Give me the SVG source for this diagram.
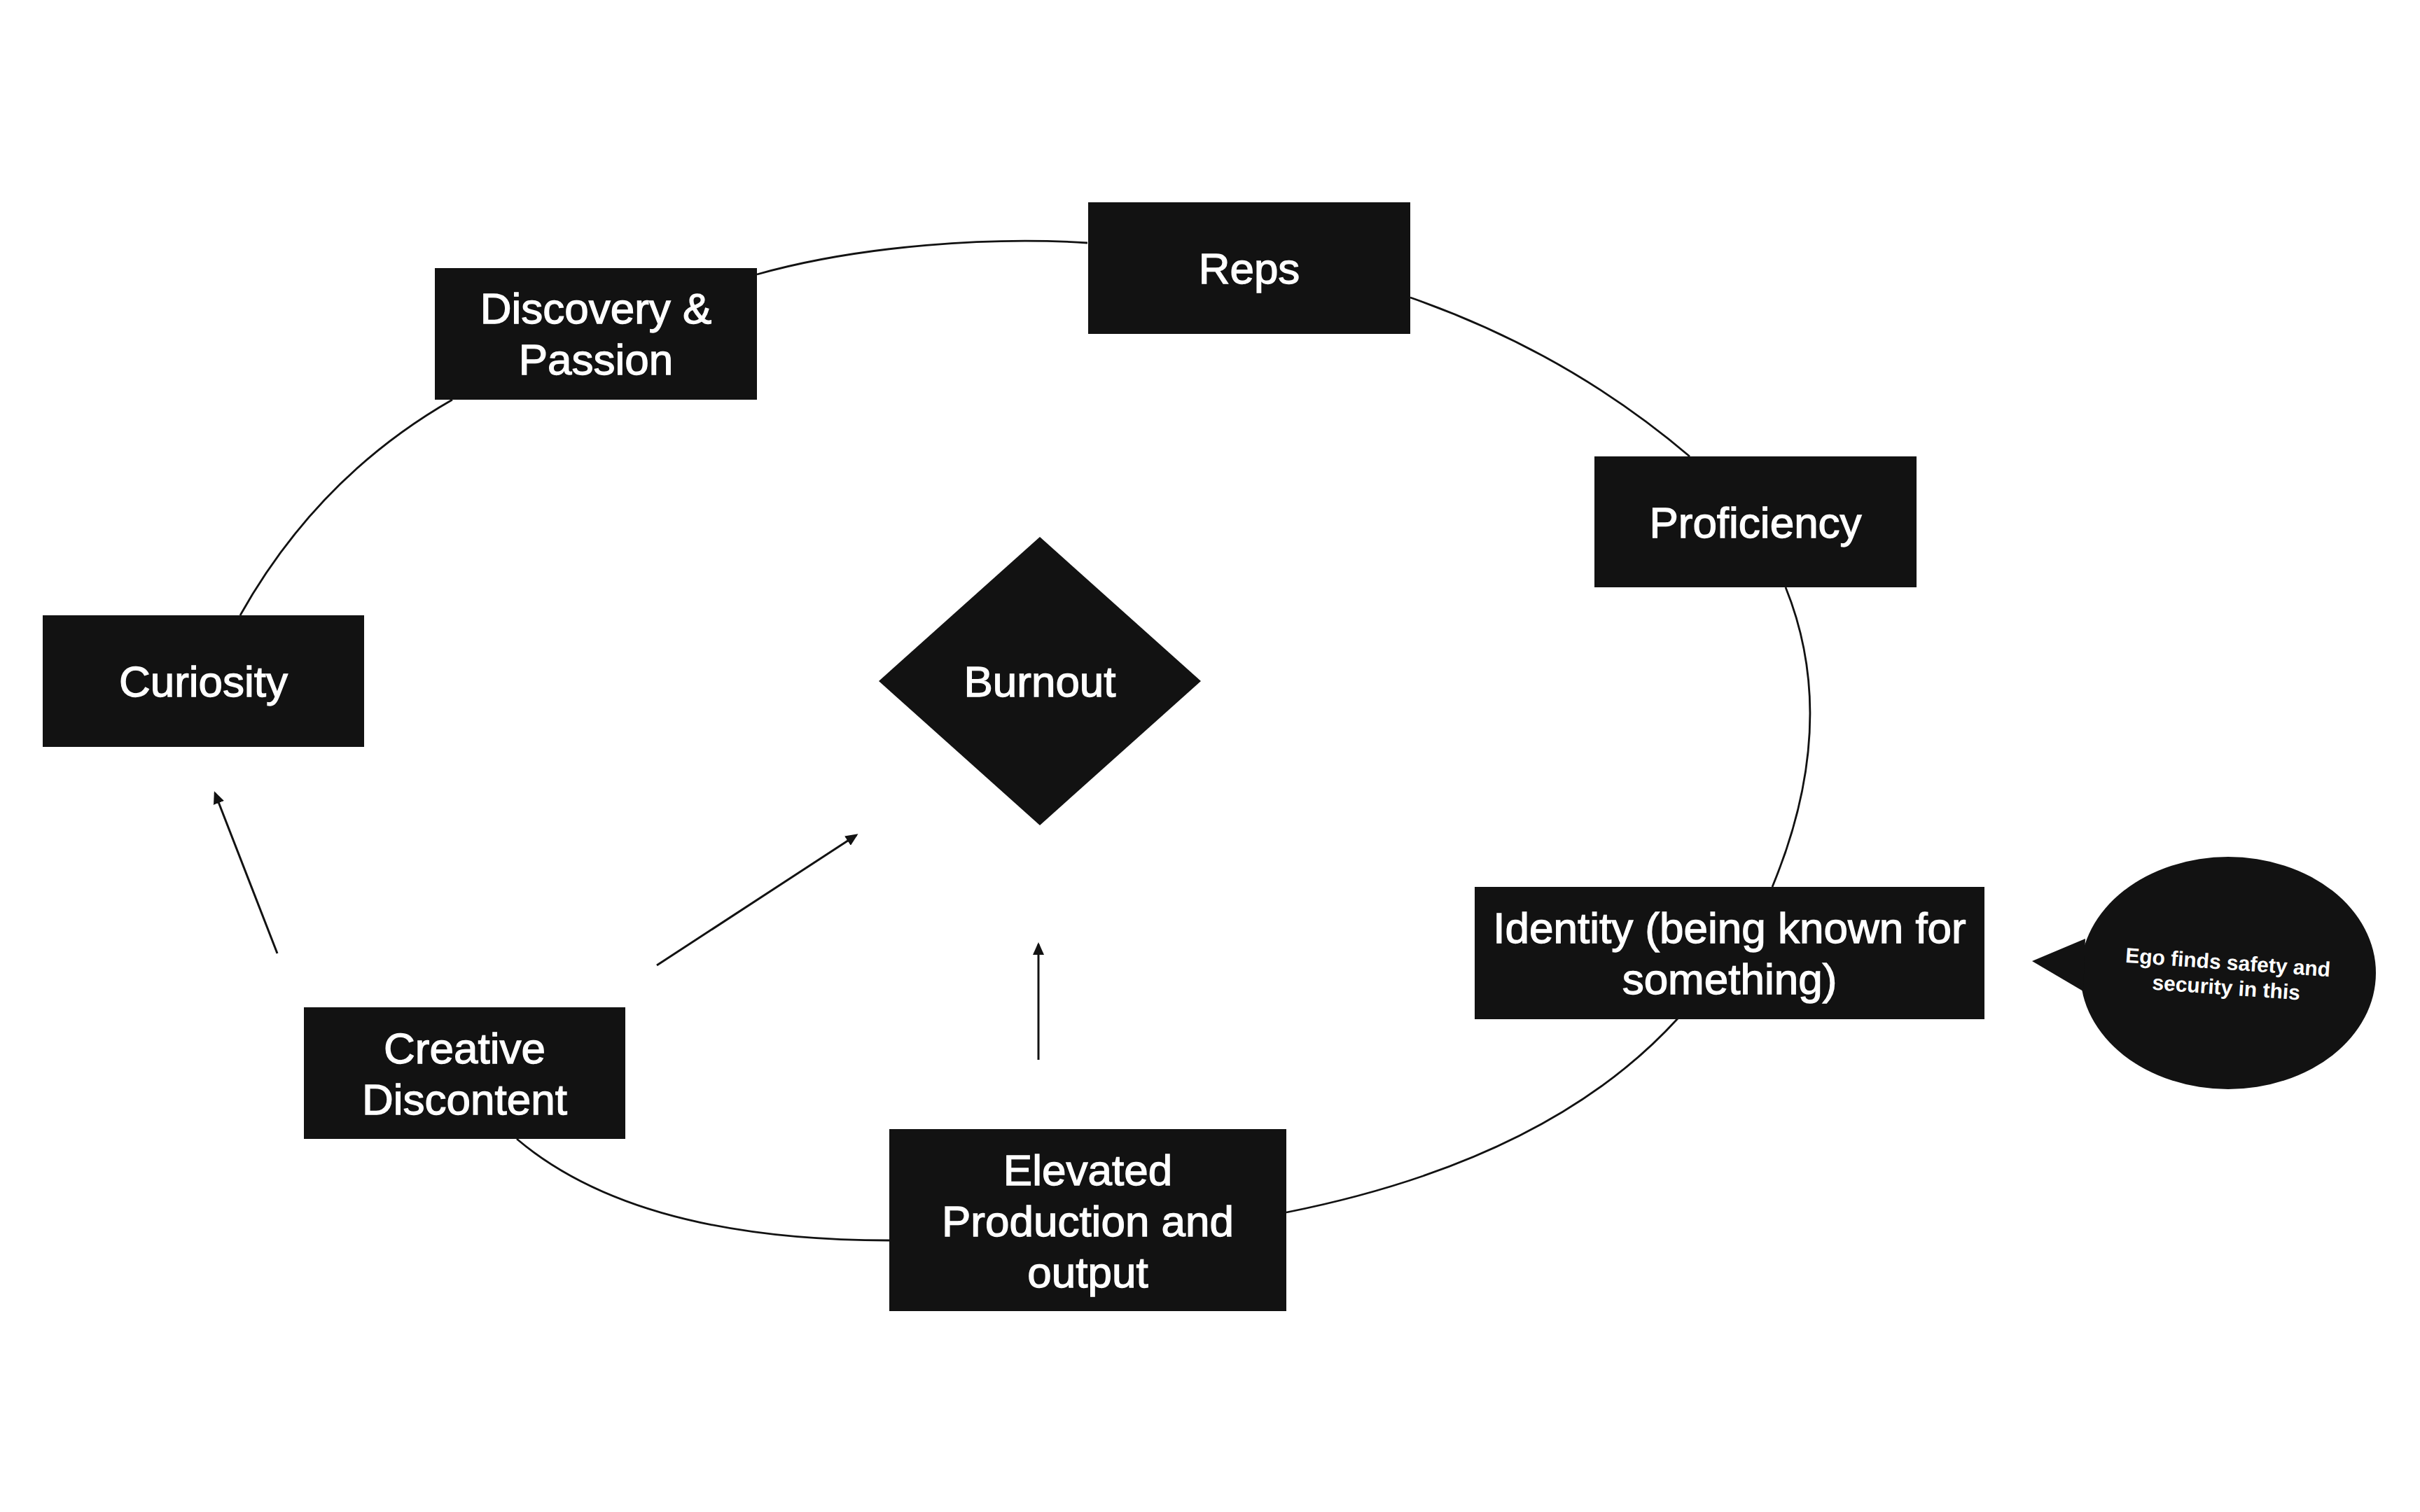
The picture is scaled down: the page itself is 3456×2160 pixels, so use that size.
<svg xmlns="http://www.w3.org/2000/svg" width="3456" height="2160" viewBox="0 0 3456 2160">
  <style>
    .box { fill: #121212; }
    .lbl { fill: #ffffff; stroke: #ffffff; stroke-width: 1.3; font-family: "Liberation Sans", Arial, Helvetica, sans-serif; font-size: 62px; text-anchor: middle; }
    .small { fill: #ffffff; font-family: "Liberation Sans", Arial, Helvetica, sans-serif; font-size: 30px; font-weight: bold; text-anchor: middle; }
    .curve { fill: none; stroke: #121212; stroke-width: 2.8; }
    .arrow { fill: none; stroke: #121212; stroke-width: 3; marker-end: url(#head); }
  </style>
  <defs>
    <marker id="head" viewBox="0 0 18 16" refX="15" refY="8" markerWidth="18" markerHeight="16" markerUnits="userSpaceOnUse" orient="auto">
      <path d="M0,0 L18,8 L0,16 Z" fill="#121212"/>
    </marker>
  </defs>
  <rect width="3456" height="2160" fill="#ffffff"/>

  <g id="connectors">
    <path class="curve" d="M343,879 Q454,681 646,571"/>
    <path class="curve" d="M1081,392 C1230,350 1420,338 1553,347"/>
    <path class="curve" d="M2014,425 Q2238,503 2413,652"/>
    <path class="curve" d="M2550,839 C2605,975 2592,1120 2531,1267"/>
    <path class="curve" d="M2396,1455 Q2212,1657 1837,1732"/>
    <path class="curve" d="M1270,1772 Q909,1772 738,1627"/>
    <path class="arrow" d="M396,1362 L307,1133"/>
    <path class="arrow" d="M938,1379 L1223,1193"/>
    <path class="arrow" d="M1483,1514 L1483,1349"/>
  </g>

  <g id="node-curiosity">
    <rect class="box" x="61" y="879" width="459" height="188"/>
    <text class="lbl" x="290.5" y="995">Curiosity</text>
  </g>
  <g id="node-discovery">
    <rect class="box" x="621" y="383" width="460" height="188"/>
    <text class="lbl" x="851" y="462">Discovery &amp;</text>
    <text class="lbl" x="851" y="535">Passion</text>
  </g>
  <g id="node-reps">
    <rect class="box" x="1554" y="289" width="460" height="188"/>
    <text class="lbl" x="1784" y="405">Reps</text>
  </g>
  <g id="node-proficiency">
    <rect class="box" x="2277" y="652" width="460" height="187"/>
    <text class="lbl" x="2507" y="768">Proficiency</text>
  </g>
  <g id="node-identity">
    <rect class="box" x="2106" y="1267" width="728" height="189"/>
    <text class="lbl" x="2470" y="1347">Identity (being known for</text>
    <text class="lbl" x="2470" y="1420">something)</text>
  </g>
  <g id="node-elevated">
    <rect class="box" x="1270" y="1613" width="567" height="260"/>
    <text class="lbl" x="1553.5" y="1693">Elevated</text>
    <text class="lbl" x="1553.5" y="1766">Production and</text>
    <text class="lbl" x="1553.5" y="1839">output</text>
  </g>
  <g id="node-creative">
    <rect class="box" x="434" y="1439" width="459" height="188"/>
    <text class="lbl" x="663.5" y="1519">Creative</text>
    <text class="lbl" x="663.5" y="1592">Discontent</text>
  </g>
  <g id="node-burnout">
    <polygon class="box" points="1485,767 1715,973 1485,1179 1255,973"/>
    <text class="lbl" x="1485" y="995">Burnout</text>
  </g>
  <g id="node-ego-bubble">
    <ellipse class="box" cx="3182" cy="1390" rx="211" ry="166"/>
    <polygon class="box" points="2978,1341 2902,1373 2975,1416"/>
    <g transform="rotate(4 3180 1400)">
      <text class="small" x="3180" y="1385">Ego finds safety and</text>
      <text class="small" x="3180" y="1421">security in this</text>
    </g>
  </g>
</svg>
